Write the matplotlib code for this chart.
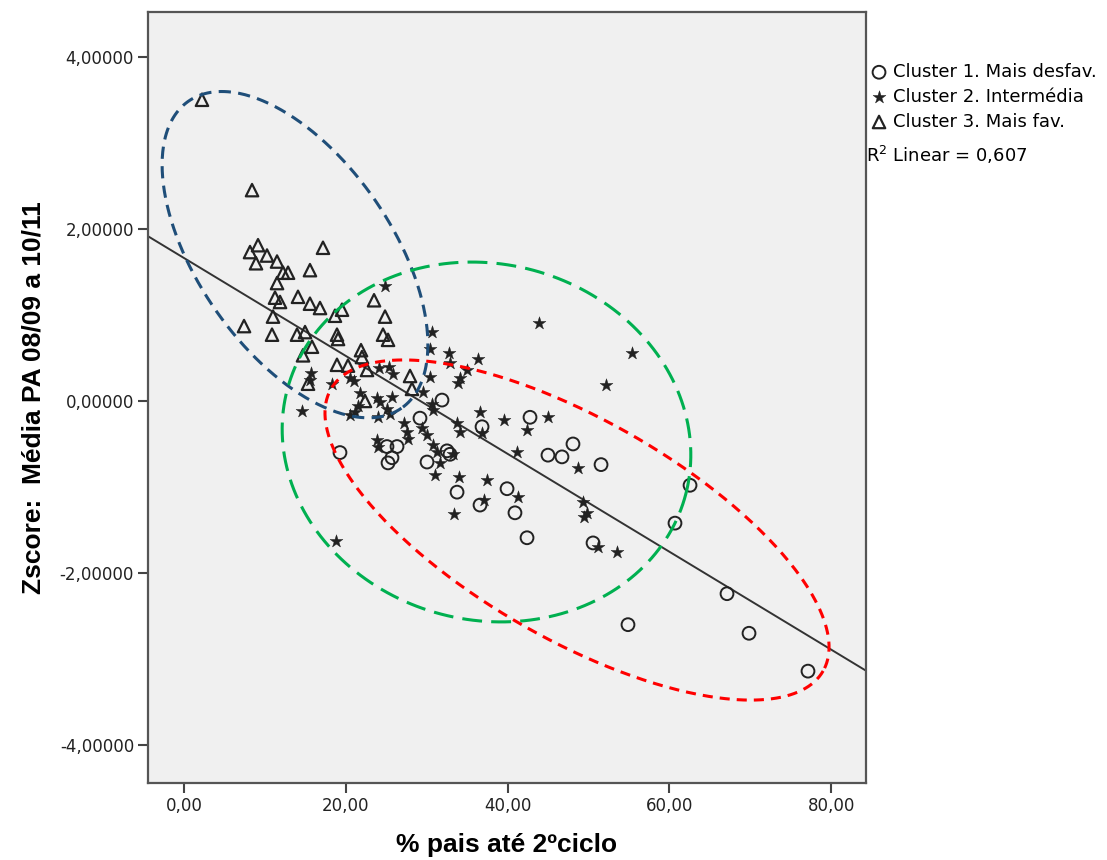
import matplotlib

matplotlib.use("Agg")

import matplotlib.pyplot as plt
import numpy as np

# --- data ---

# Cluster 1. Mais desfav. (open circles)
c1_x = [19.28, 25.09, 26.33, 25.71, 25.22, 29.17, 31.89, 36.84, 30.04, 32.51,
        32.88, 33.75, 36.59, 39.93, 40.91, 42.40, 42.77, 44.99, 46.72, 48.08,
        51.55, 50.56, 54.88, 60.69, 62.55, 67.12, 69.84, 77.13]
c1_y = [-0.60, -0.53, -0.53, -0.66, -0.72, -0.20, 0.01, -0.30, -0.71, -0.58,
        -0.62, -1.06, -1.21, -1.02, -1.30, -1.59, -0.19, -0.63, -0.65, -0.50,
        -0.74, -1.65, -2.60, -1.42, -0.98, -2.24, -2.70, -3.14]

# Cluster 2. Intermédia (stars)
c2_x = [18.79, 14.59, 15.70, 15.57, 18.29, 20.52, 21.01, 21.76, 21.51, 21.14,
        20.52, 23.86, 24.23, 25.71, 25.09, 25.46, 23.98, 24.10, 25.34, 25.83,
        24.85, 30.66, 30.41, 32.76, 36.34, 32.88, 34.98, 34.12, 33.87, 30.41,
        29.54, 30.66, 30.78, 27.19, 27.56, 27.69, 29.42, 30.04, 23.86, 23.98,
        30.78, 31.27, 31.64, 31.03, 33.75, 34.12, 33.25, 33.99, 37.45, 37.08,
        33.37, 41.29, 41.16, 48.70, 36.59, 39.56, 44.99, 42.40, 36.84, 43.88,
        55.38, 52.16, 49.32, 49.81, 49.44, 51.17, 53.52]
c2_y = [-1.63, -0.12, 0.33, 0.24, 0.20, 0.27, 0.23, 0.09, -0.06, -0.13,
        -0.16, 0.03, -0.01, 0.05, -0.09, -0.15, -0.19, 0.38, 0.40, 0.31,
        1.33, 0.80, 0.60, 0.56, 0.49, 0.44, 0.36, 0.27, 0.21, 0.28,
        0.10, -0.03, -0.10, -0.26, -0.36, -0.44, -0.31, -0.40, -0.45, -0.53,
        -0.51, -0.59, -0.72, -0.86, -0.26, -0.36, -0.62, -0.88, -0.92, -1.15,
        -1.31, -1.12, -0.59, -0.78, -0.13, -0.22, -0.19, -0.34, -0.37, 0.91,
        0.56, 0.19, -1.17, -1.30, -1.35, -1.70, -1.76]

# Cluster 3. Mais fav. (open triangles)
c3_x = [2.22, 8.41, 9.15, 8.16, 10.26, 8.90, 11.50, 12.24, 12.86, 17.18,
        15.57, 11.50, 11.25, 11.87, 14.09, 15.57, 16.81, 18.66, 19.53, 23.49,
        24.85, 11.00, 7.42, 10.88, 13.97, 14.96, 15.82, 18.91, 19.04, 24.60,
        25.22, 21.88, 22.00, 14.71, 18.91, 20.27, 22.62, 27.94, 15.33, 22.37,
        28.18]
c3_y = [3.50, 2.45, 1.81, 1.73, 1.69, 1.60, 1.62, 1.49, 1.49, 1.78,
        1.52, 1.37, 1.20, 1.15, 1.21, 1.13, 1.08, 0.99, 1.06, 1.17,
        0.98, 0.98, 0.87, 0.77, 0.77, 0.80, 0.63, 0.77, 0.72, 0.77,
        0.71, 0.59, 0.51, 0.53, 0.42, 0.41, 0.36, 0.29, 0.20, 0.00,
        0.14]

cluster_labels = ["Cluster 1. Mais desfav.", "Cluster 2. Intermédia", "Cluster 3. Mais fav."]
r2_text = "R$^2$ Linear = 0,607"

x_ticks = [0, 20, 40, 60, 80]
y_ticks = [4, 2, 0, -2, -4]

# hand-drawn cluster ellipses: centre, semi-axis vectors (data units)
ellipses = [
    # (centre, axis u, axis v, colour, dashes)
    ((13.72, 1.70), (13.16, -1.784), (-9.83, -0.642), "#1F4E79", (4.0, 2.4)),
    ((37.39, -0.477), (24.65, -0.600), (-5.50, -2.003), "#00B050", (6.5, 3.0)),
    ((48.58, -1.50), (30.42, -1.638), (-6.73, -1.106), "#FF0000", (3.3, 2.3)),
]

# --- figure ---

fig = plt.figure(figsize=(11.07, 8.6), dpi=100)
ax = fig.add_axes([148 / 1107, 1 - 783 / 860, (866 - 148) / 1107, (783 - 12) / 860])
ax.set_facecolor("#F0F0F0")
ax.set_xlim(-4.45, 84.3)
ax.set_ylim(-4.44, 4.52)

# regression line
all_x = np.array(c1_x + c2_x + c3_x)
all_y = np.array(c1_y + c2_y + c3_y)
slope, intercept = np.polyfit(all_x, all_y, 1)
xs = np.array(ax.get_xlim())
ax.plot(xs, intercept + slope * xs, color="#333333", lw=1.4, zorder=2)

# ellipses
t = np.linspace(0, 2 * np.pi, 400)
for (cx, cy), (ux, uy), (vx, vy), color, dashes in ellipses:
    ex = cx + ux * np.cos(t) + vx * np.sin(t)
    ey = cy + uy * np.cos(t) + vy * np.sin(t)
    ax.plot(ex, ey, color=color, lw=2.2, dashes=dashes, zorder=4)

mk_color = "#222222"
h1 = ax.scatter(c1_x, c1_y, s=85, marker="o", facecolors="none",
                edgecolors=mk_color, linewidths=1.4, zorder=3)
h2 = ax.scatter(c2_x, c2_y, s=95, marker="*", color=mk_color, linewidths=0.3, zorder=3)
h3 = ax.scatter(c3_x, c3_y, s=80, marker="^", facecolors="none",
                edgecolors=mk_color, linewidths=1.6, zorder=3)

ax.set_xticks(x_ticks)
ax.set_xticklabels([f"{v:.2f}".replace(".", ",") for v in x_ticks])
ax.set_yticks(y_ticks)
ax.set_yticklabels([f"{v:.5f}".replace(".", ",") for v in y_ticks])
ax.tick_params(length=7, width=1.5, color="#444444", labelsize=12,
               labelcolor="#222222", pad=3)
for spine in ax.spines.values():
    spine.set_color("#555555")
    spine.set_linewidth(1.6)

label_font = dict(family=["Liberation Sans Narrow", "Liberation Sans"], weight="bold", size=19)
ax.set_xlabel("% pais até 2ºciclo", labelpad=13, **label_font)
ax.set_ylabel("Zscore:  Média PA 08/09 a 10/11", labelpad=10, **label_font)

fig.legend([h1, h2, h3], cluster_labels, loc="upper left",
           bbox_to_anchor=(870 / 1107, 1 - 63 / 860), frameon=False,
           handletextpad=0.25, handlelength=1.0, borderpad=0, borderaxespad=0,
           labelspacing=0.38, prop={"size": 13})
fig.text(866 / 1107, 1 - 162 / 860, r2_text, fontsize=13, va="baseline", ha="left")

fig.savefig("out.png", dpi=100, facecolor="white")
